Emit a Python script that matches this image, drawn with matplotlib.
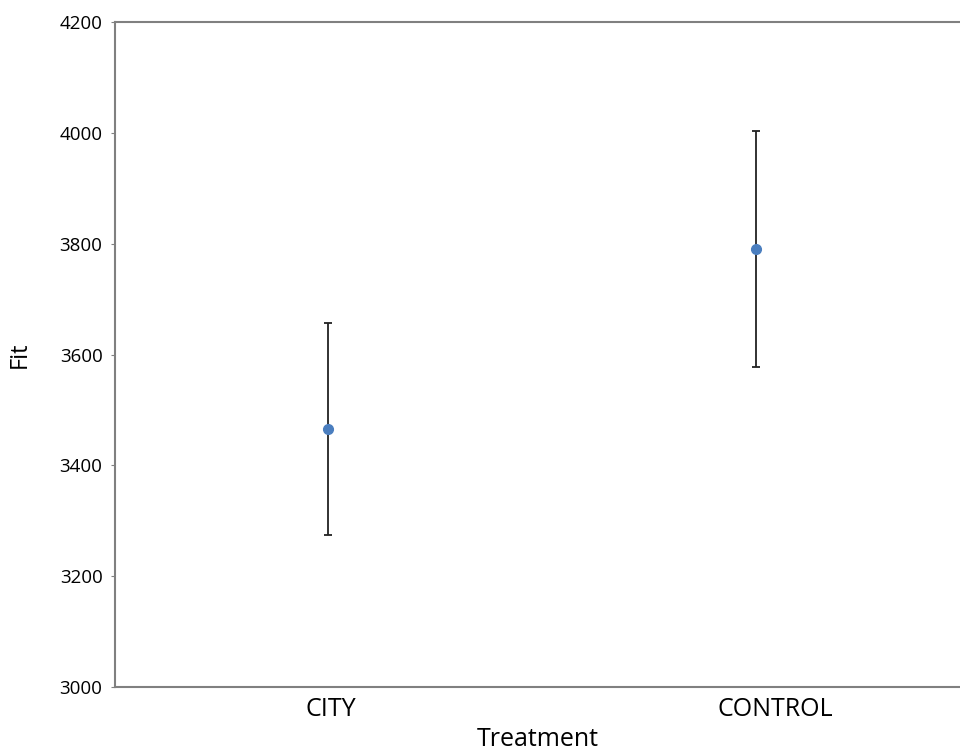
import numpy as np
import matplotlib.pyplot as plt
from matplotlib.transforms import ScaledTranslation

# Fitted values per treatment with interval bounds
treatments = ["CITY", "CONTROL"]
fit = np.array([3466, 3791])
lower = np.array([3274, 3578])
upper = np.array([3657, 4004])

plt.rcParams['font.family'] = ['Open Sans', 'DejaVu Sans']

fig = plt.figure(figsize=(9.6, 7.55), dpi=100)
ax = fig.add_axes([115 / 960, 68 / 755, 1 - 115 / 960, 665 / 755])

x = np.arange(len(treatments))
yerr = np.vstack([fit - lower, upper - fit])
ax.errorbar(x, fit, yerr=yerr, fmt="o", color="#4a7ebf", markersize=7,
            ecolor="#222222", elinewidth=1.3, capsize=3, capthick=1.3)

ax.set_xlim(-0.498, 1.477)
ax.set_ylim(3000, 4200)
ax.set_yticks(np.arange(3000, 4201, 200))
ax.set_xticks(x)
ax.set_xticklabels(treatments, fontsize=18)
ax.tick_params(axis="y", labelsize=13.5, length=3, color="#808080", pad=6)
ax.tick_params(axis="x", length=0, pad=7)

# the category labels sit a little right of their points in the original
for lab, dx in zip(ax.get_xticklabels(), [3, 19]):
    lab.set_transform(lab.get_transform() + ScaledTranslation(dx / 100, 0, fig.dpi_scale_trans))

for side in ["left", "top", "bottom"]:
    ax.spines[side].set_color("#808080")
    ax.spines[side].set_linewidth(1.5)
ax.spines["right"].set_visible(False)

ax.set_xlabel("Treatment", fontsize=18, labelpad=4)
ax.set_ylabel("Fit", fontsize=17, labelpad=20)

fig.savefig("out.png", dpi=100)
